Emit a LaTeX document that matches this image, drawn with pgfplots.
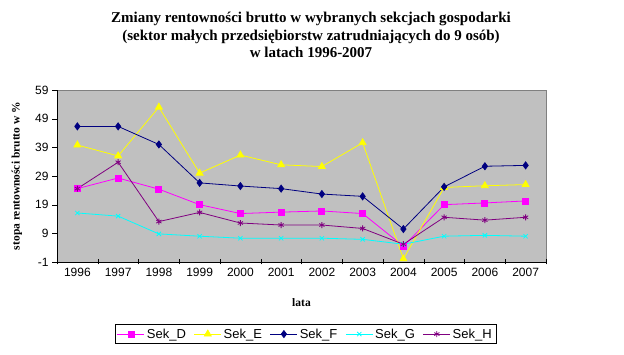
\documentclass[border=0pt]{standalone}
\usepackage{pgfplots}
\pgfplotsset{compat=1.18}
\usepackage{fontspec}
\setmainfont{Liberation Sans}
\newfontfamily\tnr{Liberation Serif}
\definecolor{bggray}{HTML}{C0C0C0}
\definecolor{sekD}{HTML}{FF00FF}
\definecolor{sekE}{HTML}{FFFF00}
\definecolor{sekF}{HTML}{000080}
\definecolor{sekG}{HTML}{00FFFF}
\definecolor{sekH}{HTML}{800080}
\begin{document}
\begin{tikzpicture}[x=1pt,y=1pt]
\path[use as bounding box] (0,0) rectangle (624,355);
\begin{axis}[
  at={(57pt,93pt)}, anchor=south west,
  width=489pt, height=172pt, scale only axis,
  xmin=-0.5, xmax=11.5, ymin=-1, ymax=59,
  xtick={-0.5,0.5,...,11.5},
  xticklabels={1996,1997,1998,1999,2000,2001,2002,2003,2004,2005,2006,2007},
  x tick label as interval,
  ytick={-1,9,19,29,39,49,59},
  axis x line*=bottom, axis y line*=left,
  axis line style={black},
  axis background/.style={fill=bggray, draw=gray},
  major tick length=5pt,
  tick style={black},
  xtick align=center, ytick align=outside,
  tick label style={font=\fontsize{12}{14}\selectfont},
  /pgf/number format/assume math mode=true,
  xlabel={\tnr\bfseries lata},
  xlabel style={at={(axis description cs:0.5,-0.238)}, anchor=center, font=\fontsize{11.5}{13}\selectfont},
  ylabel={\tnr\bfseries stopa rentowności brutto w \%},
  ylabel style={at={(axis description cs:-0.082,0.5)}, anchor=center, font=\fontsize{11.5}{13}\selectfont},
  legend columns=5,
  legend style={at={(axis description cs:0.508,-0.419)}, anchor=center, draw=black, fill=white,
    font=\fontsize{13}{15}\selectfont, inner sep=2pt,
    /tikz/every even column/.append style={column sep=6pt}},
  legend cell align=left,
  legend image code/.code={\draw[mark repeat=2,mark phase=2,#1] plot coordinates {(0pt,0pt) (13.5pt,0pt) (27pt,0pt)};},
  every axis plot/.append style={line width=0.8pt},
]
\addplot[color=sekD, mark=square*, mark size=3pt, mark options={fill=sekD}] coordinates {
(0,24.6) (1,28.3) (2,24.4) (3,19.0) (4,15.9) (5,16.4) (6,16.8) (7,15.9) (8,4.5) (9,19.0) (10,19.6) (11,20.3)};
\addlegendentry{Sek\_D}
\addplot[color=sekE, mark=triangle*, mark size=4pt, mark options={fill=sekE}] coordinates {
(0,39.8) (1,36.0) (2,53.0) (3,30.0) (4,36.3) (5,32.9) (6,32.3) (7,40.6) (8,0.1) (9,25.0) (10,25.6) (11,26.0)};
\addlegendentry{Sek\_E}
\addplot[color=sekF, mark=diamond*, mark size=3.5pt, mark options={fill=sekF}] coordinates {
(0,46.3) (1,46.3) (2,40.0) (3,26.6) (4,25.5) (5,24.6) (6,22.7) (7,21.9) (8,10.5) (9,25.2) (10,32.4) (11,32.7)};
\addlegendentry{Sek\_F}
\addplot[color=sekG, mark=x, mark size=3pt] coordinates {
(0,16.1) (1,15.0) (2,8.8) (3,8.0) (4,7.3) (5,7.3) (6,7.3) (7,6.9) (8,5.2) (9,8.0) (10,8.3) (11,8.0)};
\addlegendentry{Sek\_G}
\addplot[color=sekH, mark=asterisk, mark size=3pt] coordinates {
(0,24.6) (1,33.8) (2,13.1) (3,16.3) (4,12.6) (5,11.9) (6,11.9) (7,10.7) (8,5.2) (9,14.6) (10,13.6) (11,14.6)};
\addlegendentry{Sek\_H}
\end{axis}
\node[align=center, font=\tnr\bfseries\fontsize{15}{17.5}\selectfont] at (311,320) {Zmiany rentowności brutto w wybranych sekcjach gospodarki\\(sektor małych przedsiębiorstw zatrudniających do 9 osób)\\w latach 1996-2007};
\end{tikzpicture}
\end{document}
